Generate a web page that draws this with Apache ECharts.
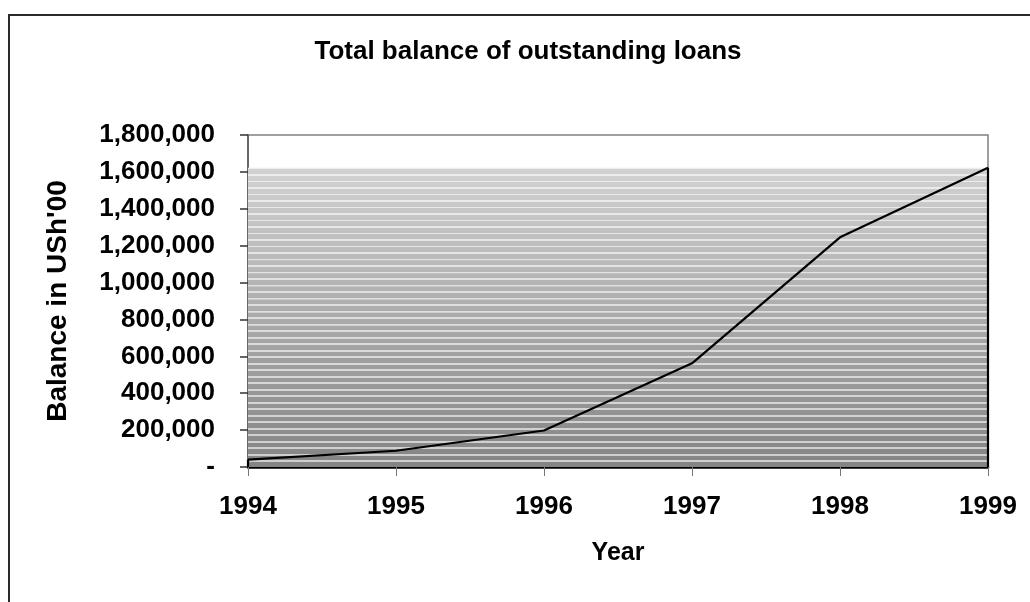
<!DOCTYPE html>
<html>
<head>
<meta charset="utf-8">
<script src="https://cdn.jsdelivr.net/npm/echarts@6/dist/echarts.min.js"></script>
<style>
html,body{margin:0;padding:0;background:#fff;}
#c{width:1030px;height:602px;}
</style>
</head>
<body>
<div id="c"></div>
<script>
const titleText = "Total balance of outstanding loans";
const years = ["1994", "1995", "1996", "1997", "1998", "1999"];
const balances = [40000, 88000, 198000, 562000, 1245000, 1623000];
const yTicks = { min: 0, max: 1800000, interval: 200000 };
const yName = "Balance in USh'00";
const xName = "Year";

const FONT = '"Liberation Sans", Arial, sans-serif';

// striped gradient fill (style only)
function stripedFill() {
  const stops = [];
  const N = 46;
  const w = 0.0055;
  const top = [210, 210, 210], bot = [132, 132, 132];
  const mix = (t) => top.map((c, k) => Math.round(c + (bot[k] - c) * t));
  const rgb = (a) => 'rgb(' + a.join(',') + ')';
  const light = (a) => a.map(c => Math.min(255, Math.round(c + (255 - c) * 0.6)));
  for (let i = 0; i < N; i++) {
    const o = i / N;
    const b = mix(o);
    const b2 = mix(Math.min(1, o + w));
    stops.push({ offset: o, color: rgb(light(b)) });
    stops.push({ offset: Math.min(1, o + w), color: rgb(light(b2)) });
    stops.push({ offset: Math.min(1, o + w + 0.0004), color: rgb(b2) });
    const e = Math.min(1, (i + 1) / N - 0.0004);
    stops.push({ offset: e, color: rgb(mix(e)) });
  }
  return { type: 'linear', x: 0, y: 0, x2: 0, y2: 1, colorStops: stops };
}

const maxVal = Math.max.apply(null, balances);
const lastIdx = years.length - 1;

const chart = echarts.init(document.getElementById('c'), null, { renderer: 'canvas' });
chart.setOption({
  animation: false,
  backgroundColor: '#fff',
  title: {
    text: titleText,
    left: 523,
    textAlign: 'center',
    top: 34,
    textStyle: { fontFamily: FONT, fontWeight: 'bold', fontSize: 26, color: '#000' }
  },
  graphic: [{
    type: 'rect',
    shape: { x: 9, y: 15, width: 1200, height: 800 },
    style: { fill: 'none', stroke: '#2a2a2a', lineWidth: 2 },
    silent: true, z: 100
  }],
  grid: {
    left: 248, right: 42, top: 135, bottom: 135,
    show: true, borderColor: '#808080', borderWidth: 1.5, backgroundColor: 'transparent'
  },
  xAxis: {
    type: 'category',
    data: years,
    boundaryGap: false,
    name: xName,
    nameLocation: 'middle',
    nameGap: 74,
    nameTextStyle: { fontFamily: FONT, fontWeight: 'bold', fontSize: 25, color: '#000' },
    axisLine: { show: true, lineStyle: { color: '#000', width: 2.5 } },
    axisTick: { show: true, length: 9, alignWithLabel: true, lineStyle: { color: '#777', width: 1 } },
    axisLabel: { margin: 27, fontFamily: FONT, fontWeight: 'bold', fontSize: 26, color: '#000' },
    splitLine: { show: false }
  },
  yAxis: {
    type: 'value',
    min: yTicks.min, max: yTicks.max, interval: yTicks.interval,
    name: yName,
    nameLocation: 'middle',
    nameGap: 176,
    nameRotate: 90,
    nameTextStyle: { fontFamily: FONT, fontWeight: 'bold', fontSize: 28, color: '#000' },
    axisLine: { show: true, lineStyle: { color: '#555', width: 1.5 } },
    axisTick: { show: true, length: 8, lineStyle: { color: '#333', width: 1.5 } },
    axisLabel: {
      margin: 33, fontFamily: FONT, fontWeight: 'bold', fontSize: 26, color: '#000',
      formatter: v => v === 0 ? '-' : v.toLocaleString('en-US')
    },
    splitLine: { show: false }
  },
  series: [
    {
      type: 'line',
      data: [],
      z: 1,
      silent: true,
      markArea: {
        silent: true,
        itemStyle: { color: stripedFill(), borderWidth: 0 },
        data: [[{ xAxis: years[0], yAxis: 0 }, { xAxis: years[lastIdx], yAxis: maxVal }]]
      }
    },
    {
      type: 'line',
      data: balances,
      z: 5,
      symbol: 'none',
      lineStyle: { color: '#000', width: 2.2 },
      markLine: {
        silent: true,
        symbol: 'none',
        label: { show: false },
        lineStyle: { color: '#000', width: 2.2, type: 'solid' },
        data: [
          [{ coord: [years[0], 0] }, { coord: [years[0], balances[0]] }],
          [{ coord: [years[lastIdx], 0] }, { coord: [years[lastIdx], balances[lastIdx]] }]
        ]
      }
    }
  ]
});
</script>
</body>
</html>
